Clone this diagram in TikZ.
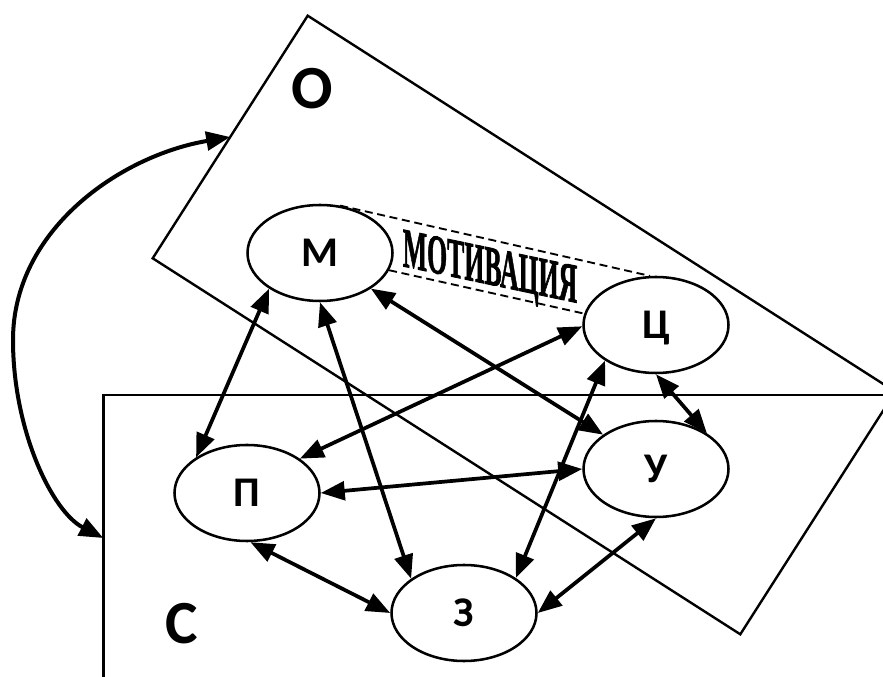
\documentclass[tikz,border=0pt]{standalone}
\usepackage{fontspec}
\newfontfamily\labfont{Carlito}
\newfontfamily\wordfont{Liberation Serif}[UprightFont=* Bold, UprightFeatures={FakeBold=1.6}]
\usetikzlibrary{arrows.meta,shapes.geometric}

\tikzset{
  headtip/.tip={Triangle[length=18pt,width=14pt]}
}

\begin{document}
\begin{tikzpicture}[
  x=0.75pt, y=-0.75pt,
  state/.style={ellipse, draw, line width=1.9pt, fill=white,
    minimum width=108.75pt, minimum height=72pt, inner sep=0pt,
    font=\labfont\bfseries\fontsize{31.7}{32}\selectfont, text depth=0pt},
  link/.style={line width=2.8pt, headtip-headtip},
  frame/.style={line width=1.8pt},
  region/.style={font=\labfont\bfseries\fontsize{46}{46}\selectfont,
    inner sep=0pt, text depth=0pt},
  guide/.style={dash pattern=on 6pt off 3.5pt, line width=1.4pt}
]
\useasboundingbox (0,0) rectangle (883,677);

% the two overlapping frames, cut at the picture border
\begin{scope}
  \clip (0,0) rectangle (883,677);
  \draw[frame] (307.7,15.7) -- (152.7,258.3) -- (740.3,634.3) -- (895.3,391.7) -- cycle;
  \draw[frame] (103.3,700) -- (103.3,395) -- (900,395);
\end{scope}

% frame labels
\node[region] (lo) at (312.7,88) {О};
\node[region] (ls) at (182,623) {С};

% the five states
\node[state] (m)  at (320,253) {М};
\node[state] (ts) at (656,325) {Ц};
\node[state] (u)  at (656,469) {У};
\node[state] (p)  at (247,493) {П};
\node[state] (z)  at (464,613) {З};

% motivation band between М and Ц
\draw[guide] (m.67) -- (ts.97);
\draw[guide] (m.346) -- (ts.171);
\coordinate (mc) at (490,272);
\node[font=\wordfont\fontsize{42}{42}\selectfont, inner sep=0pt,
      yslant=-0.21, xscale=0.46] (motiv) at (mc) {МОТИВАЦИЯ};

% links between states
\draw[link] (m.215) -- (p.145);
\draw[link] (m.270) -- (z.147);
\draw[link] (m.325) -- (u.147);
\draw[link] (ts.181) -- (p.33);
\draw[link] (ts.215) -- (z.34);
\draw[link] (ts.270) -- (u.35);
\draw[link] (p.0) -- (u.180);
\draw[link] (p.274) -- (z.180);
\draw[link] (u.270) -- (z.0);

% link between the two frames
\coordinate (oedge) at (230.2,137);
\coordinate (cedge) at (103.3,538);
\draw[link, line width=3pt] (cedge) .. controls (52,511.5) and (13,430) .. (13,340)
  .. controls (13,230) and (120,155.7) .. (oedge);
\end{tikzpicture}
\end{document}
